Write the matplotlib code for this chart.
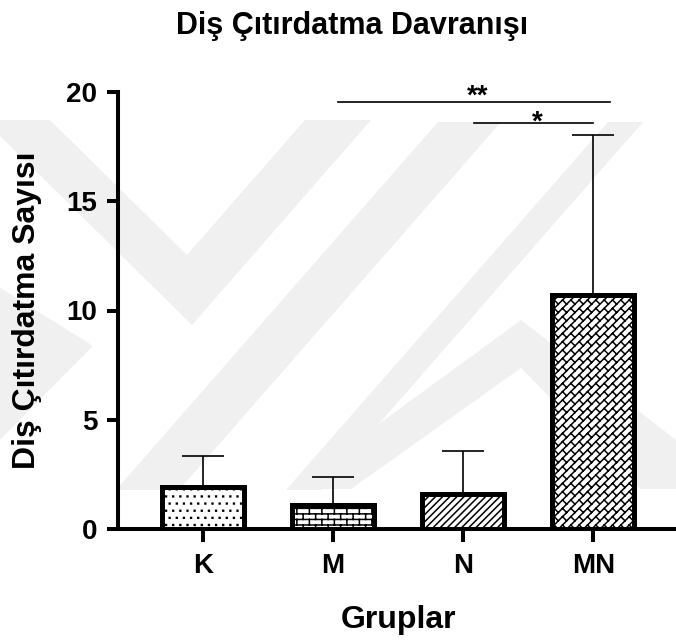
import warnings
import numpy as np
import matplotlib
matplotlib.use("Agg")
import matplotlib.pyplot as plt
from matplotlib import hatch as mhatch
from matplotlib.path import Path
from matplotlib.patches import Polygon

warnings.filterwarnings("ignore", category=matplotlib.MatplotlibDeprecationWarning)

# group means and upper error (SD) of the tooth grinding counts
groups = ["K", "M", "N", "MN"]
means = [1.9, 1.1, 1.6, 10.7]
errors = [1.44, 1.28, 1.97, 7.33]
fills = ["p", "b", "n", "w"]

# significance lines: start, end, line height, label baseline, label
brackets = [(1.04, 3.13, 19.55, 19.45, "**"), (2.08, 3.0, 18.6, 18.3, "*")]


# --- custom fill patterns (registered as hatch types) ---
def _seg_codes(n):
    return np.tile([Path.MOVETO, Path.LINETO], n)


class DotFill(mhatch.HatchPatternBase):
    rows = 14
    cols = 14
    s = 0.004

    def __init__(self, hatch, density):
        self.on = "p" in hatch
        self.num_vertices = self.rows * self.cols * 5 if self.on else 0

    def set_vertices_and_codes(self, vertices, codes):
        v = []
        c = []
        for i in range(self.rows):
            y = (i + 0.5) / self.rows
            for j in range(self.cols):
                x = (j + 0.25 + 0.5 * (i % 2)) / self.cols
                s = self.s
                v += [(x - s, y - s), (x + s, y - s), (x + s, y + s), (x - s, y + s), (x - s, y - s)]
                c += [Path.MOVETO, Path.LINETO, Path.LINETO, Path.LINETO, Path.CLOSEPOLY]
        vertices[:] = v
        codes[:] = c


class BrickFill(mhatch.HatchPatternBase):
    rows = 18
    cols = 8

    def __init__(self, hatch, density):
        self.on = "b" in hatch
        self.segs = self._make() if self.on else []
        self.num_vertices = 2 * len(self.segs)

    def _make(self):
        segs = []
        for i in range(-1, self.rows + 1):
            y0 = (i + 0.5) / self.rows
            segs.append(((-0.05, y0), (1.05, y0)))
            y1 = (i + 1.5) / self.rows
            for j in range(-1, self.cols + 1):
                x = (j + 0.25 + 0.5 * (i % 2)) / self.cols
                segs.append(((x, y0), (x, y1)))
        return segs

    def set_vertices_and_codes(self, vertices, codes):
        vertices[:] = np.array(self.segs).reshape(-1, 2)
        codes[:] = _seg_codes(len(self.segs))


class SlashFill(mhatch.HatchPatternBase):
    n = 14

    def __init__(self, hatch, density):
        self.on = "n" in hatch
        self.num_vertices = 2 * 2 * self.n if self.on else 0

    def set_vertices_and_codes(self, vertices, codes):
        segs = []
        for k in range(2 * self.n):
            cc = (k + 0.5) / self.n - 1
            segs.append(((cc - 0.1, -0.1), (cc + 1.1, 1.1)))
        vertices[:] = np.array(segs).reshape(-1, 2)
        codes[:] = _seg_codes(len(segs))


class DiagBrickFill(mhatch.HatchPatternBase):
    # long "/" strokes joined by short staggered "\" strokes
    n = 12
    m = 12

    def __init__(self, hatch, density):
        self.on = "w" in hatch
        self.segs = self._make() if self.on else []
        self.num_vertices = 2 * len(self.segs)

    def _make(self):
        segs = []
        d = 1.0 / (2 * self.n)
        step = 0.5 / self.m - d
        for k in range(2 * self.n):
            cc = (k + 0.5) / self.n - 1
            segs.append(((cc - 0.1, -0.1), (cc + 1.1, 1.1)))
            off = (k * step) % (1.0 / self.m)
            for j in range(-self.m, 2 * self.m):
                s = j / self.m + off
                segs.append(((cc + s, s), (cc + s + d, s - d)))
        return segs

    def set_vertices_and_codes(self, vertices, codes):
        vertices[:] = np.array(self.segs).reshape(-1, 2)
        codes[:] = _seg_codes(len(self.segs))


mhatch._hatch_types.extend([DotFill, BrickFill, SlashFill, DiagBrickFill])

plt.rcParams["font.family"] = ["Liberation Sans", "DejaVu Sans"]
plt.rcParams["hatch.linewidth"] = 1.1

W, H = 676, 642
fig = plt.figure(figsize=(W / 100, H / 100), dpi=100)


def px(points):
    return [(x / W, 1 - y / H) for x, y in points]


# faint background watermark bands
wm = "#f0f0f0"
bands = [
    [(-16, 120), (50, 120), (187, 255), (305, 120), (371, 120), (192, 325)],
    [(438, 122), (501, 122), (179, 490), (116, 490)],
    [(608, 122), (643, 122), (321, 490), (286, 490)],
    [(-60, 250), (93, 346), (-60, 500)],
    [(290, 489), (521, 320), (676, 440), (676, 489), (640, 489), (521, 368), (351, 489)],
]
for b in bands:
    fig.patches.append(Polygon(px(b), closed=True, transform=fig.transFigure,
                               facecolor=wm, edgecolor="none", zorder=-5))

ax = fig.add_axes([118 / W, 113 / H, 560 / W, 437 / H])
ax.patch.set_alpha(0)

x = np.arange(len(groups))
bars = ax.bar(x, means, width=0.63, color="white", edgecolor="black",
              linewidth=3.6, zorder=3)
for bar, f in zip(bars, fills):
    bar.set_hatch(f)

ax.errorbar(x, means, yerr=[np.zeros(len(errors)), errors], fmt="none",
            ecolor="black", elinewidth=1.2, capsize=15, capthick=1.2, zorder=2)

for x0, x1, y, ty, lab in brackets:
    ax.plot([x0, x1], [y, y], color="black", lw=1.2, clip_on=False, zorder=4)
    ax.text((x0 + x1) / 2 + 0.03, ty, lab, ha="center", va="baseline",
            fontsize=20, fontweight="bold", clip_on=False)

ax.set_xlim(-0.65, 3.65)
ax.set_ylim(0, 20)
ax.set_yticks([0, 5, 10, 15, 20])
ax.set_xticks(x)
ax.set_xticklabels(groups)
for s in ["top", "right"]:
    ax.spines[s].set_visible(False)
for s in ["left", "bottom"]:
    ax.spines[s].set_linewidth(2.9)
ax.tick_params(axis="y", length=8, width=2.9, pad=7, labelsize=20)
ax.tick_params(axis="x", length=9, width=2.9, pad=8, labelsize=20)
for lab in ax.get_xticklabels() + ax.get_yticklabels():
    lab.set_fontweight("bold")

fig.text(352 / W, 1 - 26 / H, "Diş Çıtırdatma Davranışı", ha="center",
         va="center", fontsize=22, fontweight="bold")
fig.text(27 / W, 1 - 310 / H, "Diş Çıtırdatma Sayısı", ha="center",
         va="center", rotation=90, fontsize=23, fontweight="bold")
fig.text(399 / W, 1 - 620 / H, "Gruplar", ha="center", va="center",
         fontsize=23, fontweight="bold")

fig.savefig("out.png", dpi=100)
